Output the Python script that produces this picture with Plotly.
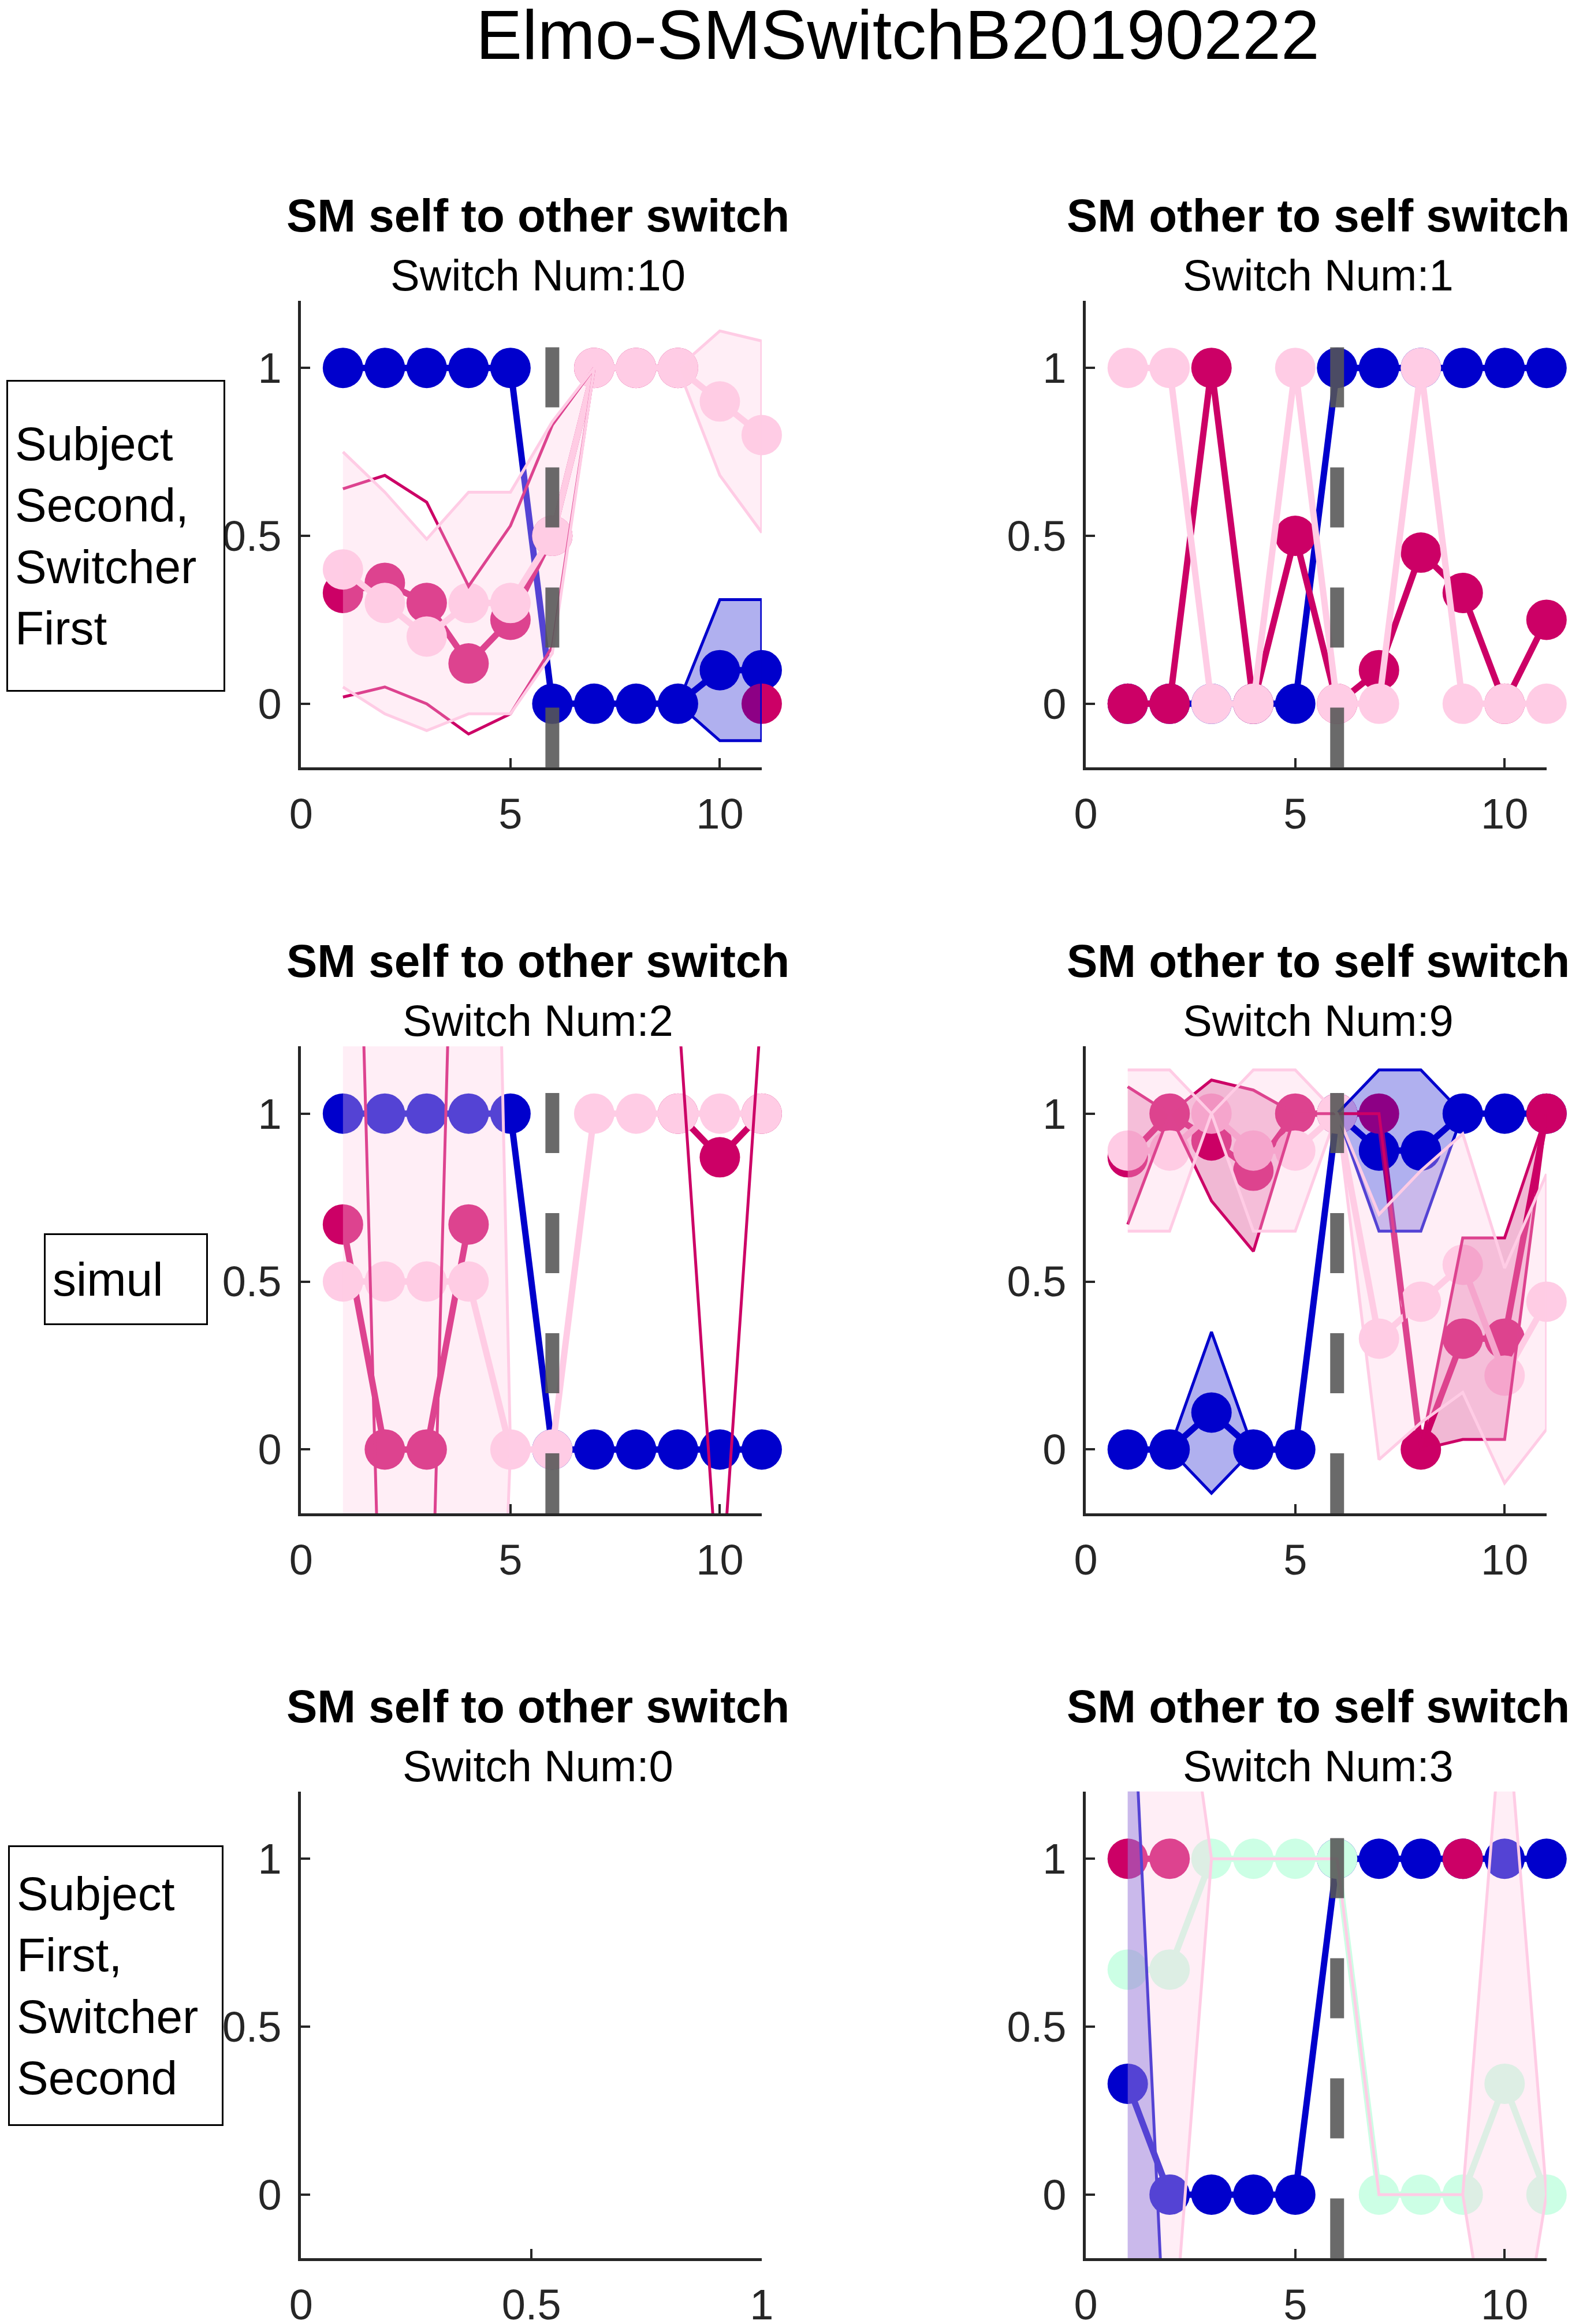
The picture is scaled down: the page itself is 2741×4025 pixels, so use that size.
import plotly.graph_objects as go
from plotly.subplots import make_subplots

# ---------------- data ----------------
trial = list(range(1, 12))
switch_x = 6

# panel 1: SM self to other, subject second
p1_blue = [1, 1, 1, 1, 1, 0, 0, 0, 0, 0.1, 0.1]
p1_mag = [0.33, 0.36, 0.30, 0.12, 0.25, 0.5, 1, 1, 1, None, 0]
p1_light = [0.4, 0.3, 0.2, 0.3, 0.3, 0.5, 1, 1, 1, 0.9, 0.8]
p1_blue_lo = [None] * 8 + [0, -0.11, -0.11]
p1_blue_hi = [None] * 8 + [0, 0.31, 0.31]
p1_mag_lo = [0.02, 0.05, 0, -0.09, -0.03, 0.17, 1, None, None, None, None]
p1_mag_hi = [0.64, 0.68, 0.6, 0.35, 0.53, 0.83, 1, None, None, None, None]
p1_light_lo = [0.05, -0.03, -0.08, -0.03, -0.03, 0.15, 1, 1, 1, 0.68, 0.51]
p1_light_hi = [0.75, 0.63, 0.49, 0.63, 0.63, 0.84, 1, 1, 1, 1.11, 1.08]

# panel 2: SM other to self, subject second
p2_blue = [0, 0, 0, 0, 0, 1, 1, 1, 1, 1, 1]
p2_mag = [0, 0, 1, 0, 0.5, 0, 0.1, 0.45, 0.33, 0, 0.25]
p2_light = [1, 1, 0, 0, 1, 0, 0, 1, 0, 0, 0]

# panel 3: SM self to other, simul
p3_blue = [1, 1, 1, 1, 1, 0, 0, 0, 0, 0, 0]
p3_mag = [0.67, 0, 0, 0.67, None, None, None, None, 1, 0.87, 1]
p3_light = [0.5, 0.5, 0.5, 0.5, 0, 0, 1, 1, 1, 1, 1]
p3_mag_line = [3.5, -1.1, -1.1, 3.5, None, None, None, None, 1.33, -0.5, 1.33]
p3_light_lo = [-3.2, -3.2, -3.2, -3.2, 0] + [None] * 6
p3_light_hi = [5.7, 5.7, 5.7, 5.7, 0] + [None] * 6

# panel 4: SM other to self, simul
p4_blue = [0, 0, 0.11, 0, 0, 1, 0.89, 0.89, 1, 1, 1]
p4_mag = [0.87, 1, 0.92, 0.83, 1, 1, 1, 0, 0.33, 0.33, 1]
p4_light = [0.89, 0.89, 1, 0.89, 0.89, 1, 0.33, 0.44, 0.55, 0.22, 0.44]
p4_blue_lo = [None, 0, -0.13, 0, None, 1, 0.65, 0.65, 1, None, None]
p4_blue_hi = [None, 0, 0.35, 0, None, 1, 1.13, 1.13, 1, None, None]
p4_mag_lo = [0.67, 1, 0.74, 0.59, 1, 1, 1, 0, 0.03, 0.03, 1]
p4_mag_hi = [1.08, 1, 1.1, 1.07, 1, 1, 1, 0, 0.63, 0.63, 1]
p4_light_lo = [0.65, 0.65, 1, 0.65, 0.65, 1, -0.03, 0.08, 0.17, -0.1, 0.06]
p4_light_hi = [1.13, 1.13, 1, 1.13, 1.13, 1, 0.7, 0.83, 0.94, 0.54, 0.82]

# panel 6: SM other to self, subject first
p6_blue = [0.33, 0, 0, 0, 0, 1, 1, 1, 1, 1, 1]
p6_mag = [1, 1, None, None, None, None, None, None, 1, None, None]
p6_mint = [0.67, 0.67, 1, 1, 1, 1, 0, 0, 0, 0.33, 0]
p6_blue_lo = [-1.2, -0.77] + [None] * 9
p6_blue_hi = [1.85, -0.77] + [None] * 9
p6_light_lo = [-1.5, -0.59, 1, 1, 1, 1, 0, 0, 0, -0.76, 0]
p6_light_hi = [2.5, 1.9, 1, 1, 1, 1, 0, 0, 0, 1.54, 0]

titles = ["SM self to other switch", "SM other to self switch"] * 3
switch_nums = [10, 1, 2, 9, 0, 3]
row_labels = [
    ["Subject", "Second,", "Switcher", "First"],
    ["simul"],
    ["Subject", "First,", "Switcher", "Second"],
]

# ---------------- style ----------------
BLUE = "#0000CC"
MAG = "#CC0066"
LIGHT = "#FFCCE5"
MINT = "#CCFFE5"
FONT = "Liberation Sans"
TXT = "#262626"

fig = make_subplots(rows=3, cols=2)


def mean_trace(y, color, r, c):
    fig.add_trace(go.Scatter(
        x=trial, y=y, mode="lines+markers", connectgaps=False, cliponaxis=False,
        line=dict(color=color, width=11),
        marker=dict(color=color, size=70, line=dict(width=0)),
        showlegend=False, hoverinfo="skip"), row=r, col=c)


def runs(lo, hi):
    out, cur = [], []
    for i, (a, b) in enumerate(zip(lo, hi)):
        if a is None or b is None:
            if cur:
                out.append(cur)
            cur = []
        else:
            cur.append(i)
    if cur:
        out.append(cur)
    return out


def band(lo, hi, linecolor, fillcolor, r, c):
    for idx in runs(lo, hi):
        xs = [trial[i] for i in idx]
        ys_lo = [lo[i] for i in idx]
        ys_hi = [hi[i] for i in idx]
        fig.add_trace(go.Scatter(
            x=xs + xs[::-1], y=ys_hi + ys_lo[::-1], mode="lines",
            fill="toself", fillcolor=fillcolor,
            line=dict(color=linecolor, width=5),
            showlegend=False, hoverinfo="skip"), row=r, col=c)


def edge(y, color, r, c):
    fig.add_trace(go.Scatter(
        x=trial, y=y, mode="lines", line=dict(color=color, width=5),
        showlegend=False, hoverinfo="skip"), row=r, col=c)


LIGHT_FILL = "rgba(255,204,229,0.33)"
BLUE_FILL = "rgba(0,0,204,0.31)"
MAG_FILL = "rgba(204,0,102,0.28)"

# panel 1
mean_trace(p1_blue, BLUE, 1, 1)
mean_trace(p1_mag, MAG, 1, 1)
mean_trace(p1_light, LIGHT, 1, 1)
band(p1_blue_lo, p1_blue_hi, BLUE, BLUE_FILL, 1, 1)
edge(p1_mag_lo, MAG, 1, 1)
edge(p1_mag_hi, MAG, 1, 1)
band(p1_light_lo, p1_light_hi, LIGHT, LIGHT_FILL, 1, 1)

# panel 2
mean_trace(p2_blue, BLUE, 1, 2)
mean_trace(p2_mag, MAG, 1, 2)
mean_trace(p2_light, LIGHT, 1, 2)

# panel 3
mean_trace(p3_blue, BLUE, 2, 1)
mean_trace(p3_mag, MAG, 2, 1)
mean_trace(p3_light, LIGHT, 2, 1)
edge(p3_mag_line, MAG, 2, 1)
band(p3_light_lo, p3_light_hi, LIGHT, LIGHT_FILL, 2, 1)

# panel 4
mean_trace(p4_blue, BLUE, 2, 2)
mean_trace(p4_mag, MAG, 2, 2)
mean_trace(p4_light, LIGHT, 2, 2)
band(p4_blue_lo, p4_blue_hi, BLUE, BLUE_FILL, 2, 2)
band(p4_mag_lo, p4_mag_hi, MAG, MAG_FILL, 2, 2)
band(p4_light_lo, p4_light_hi, LIGHT, LIGHT_FILL, 2, 2)

# panel 5 is empty, but its axes must still be drawn
fig.add_trace(go.Scatter(x=[None], y=[None], mode="markers",
                         showlegend=False, hoverinfo="skip"), row=3, col=1)

# panel 6
mean_trace(p6_blue, BLUE, 3, 2)
mean_trace(p6_mag, MAG, 3, 2)
mean_trace(p6_mint, MINT, 3, 2)
band(p6_blue_lo, p6_blue_hi, BLUE, BLUE_FILL, 3, 2)
band(p6_light_lo, p6_light_hi, LIGHT, LIGHT_FILL, 3, 2)

# ---------------- layout ----------------
W, H = 2741, 4025
xdom = [(500 / W, 1310 / W), (1880 / W, 2690 / W)]
ytops = [515, 1812, 3108]
ah = 812
xcent = [917 / W, 2289 / W]

axis_common = dict(
    showgrid=False, zeroline=False, showline=True, linecolor=TXT, linewidth=5,
    ticks="inside", ticklen=16, tickwidth=4, tickcolor=TXT,
    tickfont=dict(family=FONT, size=74, color=TXT), mirror=False)

annotations = []
shapes = []
for k in range(6):
    r, c = divmod(k, 2)
    n = "" if k == 0 else str(k + 1)
    yd = (1 - (ytops[r] + ah) / H, 1 - ytops[r] / H)
    empty = (k == 4)
    fig.layout["xaxis" + n].update(
        domain=xdom[c], range=[0, 1] if empty else [0, 11],
        tickvals=[0, 0.5, 1] if empty else [0, 5, 10],
        ticktext=["0", "0.5", "1"] if empty else ["0", "5", "10"],
        ticklabelstandoff=12, **axis_common)
    fig.layout["yaxis" + n].update(
        domain=yd, range=[-0.19, 1.2], tickvals=[0, 0.5, 1],
        ticktext=["0", "0.5", "1"], ticklabelstandoff=14, **axis_common)
    annotations.append(dict(
        text="<b>" + titles[k] + "</b>", x=xcent[c], y=1 - (ytops[r] - 148) / H,
        xref="paper", yref="paper", showarrow=False,
        xanchor="center", yanchor="middle",
        font=dict(family=FONT, size=80, color="black")))
    annotations.append(dict(
        text="Switch Num:" + str(switch_nums[k]), x=xcent[c],
        y=1 - (ytops[r] - 45) / H, xref="paper", yref="paper",
        showarrow=False, xanchor="center", yanchor="middle",
        font=dict(family=FONT, size=76, color="black")))
    if not empty:
        shapes.append(dict(
            type="line", xref="x" + n, yref="y" + n + " domain",
            x0=switch_x, x1=switch_x, y0=0, y1=1, layer="above",
            line=dict(color="rgba(85,85,85,0.88)", width=24, dash="104px,104px")))

# row label boxes: center x, center y, width, height (pixels)
boxes = [(174, 924, 379, 540), (192, 2217, 284, 159), (174, 3446, 373, 486)]
for (cx, cy, bw, bh), lines in zip(boxes, row_labels):
    annotations.append(dict(
        text="<br>".join(lines), x=cx / W, y=1 - cy / H,
        xref="paper", yref="paper", showarrow=False, align="left",
        xanchor="center", yanchor="middle", width=bw - 30, height=bh - 30,
        borderpad=12, bordercolor="black", borderwidth=3, bgcolor="white",
        font=dict(family=FONT, size=82, color="black")))

annotations.append(dict(
    text="Elmo-SMSwitchB20190222", x=1549 / W, y=1 - 52 / H,
    xref="paper", yref="paper", showarrow=False,
    xanchor="center", yanchor="middle",
    font=dict(family=FONT, size=120, color="black")))

fig.update_layout(
    width=W, height=H, margin=dict(l=0, r=0, t=0, b=0),
    paper_bgcolor="white", plot_bgcolor="white",
    annotations=annotations, shapes=shapes, showlegend=False)

fig.write_html("out.html")
